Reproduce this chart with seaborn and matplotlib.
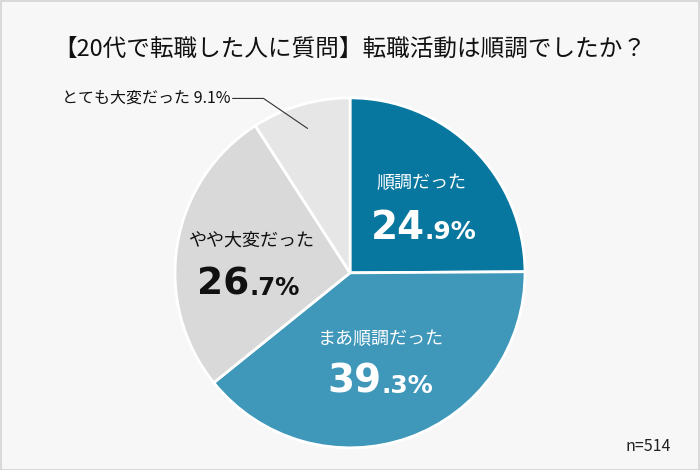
import numpy as np
import matplotlib
matplotlib.use("Agg")
import matplotlib.pyplot as plt
import seaborn as sns

sns.set_theme(style="white")
plt.rcParams['font.family'] = ['Noto Sans CJK JP', 'DejaVu Sans']

title = "【20代で転職した人に質問】転職活動は順調でしたか？"
categories = ["順調だった", "まあ順調だった", "やや大変だった", "とても大変だった"]
values = [24.9, 39.3, 26.7, 9.1]
colors = ["#07779F", "#3F97BA", "#D9D9D9", "#E6E6E6"]
text_colors = ["white", "white", "#111111", "#111111"]
n_label = "n=514"

bg = "#F7F7F7"
fig = plt.figure(figsize=(7, 4.7), dpi=100, facecolor=bg)
ax = fig.add_axes([0.25, 0.047, 0.5, 0.745])
ax.set_facecolor(bg)

wedges, _ = ax.pie(values, colors=colors, startangle=90, counterclock=False,
                   wedgeprops=dict(edgecolor="white", linewidth=2))
ax.set_aspect("equal")
ax.set_xlim(-1, 1)
ax.axis("off")
ax.set_ylim(-1, 1)

px = 1 / 175.0
label_r = [0.58, 0.52, 0.57]
label_dy = [18, 20, 16]
gap_px = [56, 54, 54]
split_px = [3, 1, -2]
big_size = [28, 28, 27]
small_size = [18, 18, 17.5]
for i in range(3):
    w = wedges[i]
    ang = np.deg2rad((w.theta1 + w.theta2) / 2)
    x = label_r[i] * np.cos(ang)
    y = label_r[i] * np.sin(ang)
    c = text_colors[i]
    ly = y + label_dy[i] * px
    ax.text(x, ly, categories[i], ha="center", va="center",
            fontsize=13, color=c)
    s = f"{values[i]:.1f}"
    big, small = s.split(".")
    split_x = x + split_px[i] * px
    base_y = ly - gap_px[i] * px
    ax.text(split_x, base_y, big, ha="right", va="baseline",
            fontsize=big_size[i], fontweight="bold", color=c, family="DejaVu Sans")
    ax.text(split_x, base_y, "." + small + "%", ha="left", va="baseline",
            fontsize=small_size[i], fontweight="bold", color=c, family="DejaVu Sans")

# small slice with leader line
w = wedges[3]
ang = np.deg2rad((w.theta1 + w.theta2) / 2)
ax_, ay_ = 0.86 * np.cos(ang), 0.86 * np.sin(ang)
bx, by = ax_ - 44 * px, ay_ + 30 * px
cx, cy = bx - 31 * px, by
ax.plot([ax_, bx, cx], [ay_, by, cy], color="#333333", lw=0.8, clip_on=False)
ax.text(cx - 2 * px, cy, f"{categories[3]} {values[3]:.1f}%", ha="right",
        va="center", fontsize=11.5, color="#111111", clip_on=False)

fig.text(0.5, 0.896, title, ha="center", va="center", fontsize=17, color="#111111")
fig.text(0.926, 0.049, n_label, ha="center", va="center", fontsize=11.5, color="#222222")

border = plt.Rectangle((0.001, 0.001), 0.997, 0.997, transform=fig.transFigure,
                       fill=False, edgecolor="#D4D4D4", lw=1.2)
fig.patches.append(border)

fig.savefig("out.png", dpi=100, facecolor=bg)
